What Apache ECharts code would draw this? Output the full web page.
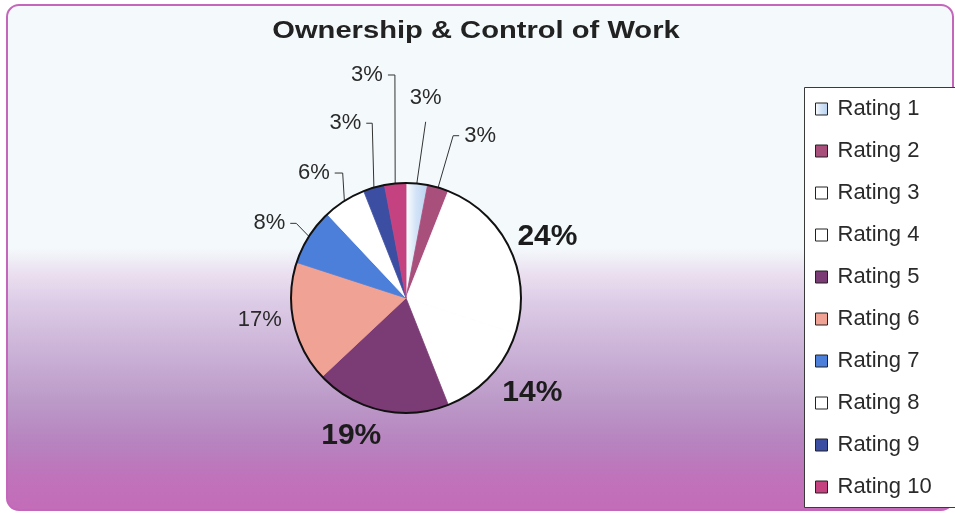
<!DOCTYPE html>
<html>
<head>
<meta charset="utf-8">
<script src="https://cdn.jsdelivr.net/npm/echarts@6/dist/echarts.min.js"></script>
<style>
  html, body { margin: 0; padding: 0; background: #ffffff; }
  #chart { width: 955px; height: 514px; }
</style>
</head>
<body>
<div id="chart"></div>
<script>
// Chart content
const chartTitle = 'Ownership & Control of Work';
const categories = ['Rating 1', 'Rating 2', 'Rating 3', 'Rating 4', 'Rating 5',
                    'Rating 6', 'Rating 7', 'Rating 8', 'Rating 9', 'Rating 10'];
const shares = [3, 3, 24, 14, 19, 17, 8, 6, 3, 3];   // percent of responses

// Slice fills, one per rating
const sliceColors = [
  { type: 'linear', x: 0, y: 0, x2: 1, y2: 0,
    colorStops: [{ offset: 0, color: '#ffffff' }, { offset: 0.45, color: '#d4e4f7' }, { offset: 1, color: '#b9d2f1' }] },
  '#a94f7c', '#ffffff', '#ffffff', '#7b3b74',
  '#f0a395', '#4c7fd9', '#ffffff', '#3c4ea2', '#c4427f'
];
// Solid edge colour for each slice, hides anti-aliasing seams between wedges
const sliceEdges = ['#d4e4f7', '#a94f7c', '#ffffff', '#ffffff', '#7b3b74',
                    '#f0a395', '#4c7fd9', '#ffffff', '#3c4ea2', '#c4427f'];

// Label styling per slice: big bold figures for the three largest wedges
const boldLabel = [false, false, true, true, true, false, false, false, false, false];

// Leader line geometry per slice: radial length, horizontal length,
// extra offset of the elbow/label, whether the line is drawn, label above the line end
const leaderCfg = [
  { len: 62,  len2: 0, dx: 3,   dy: 0,  show: true,  above: true },
  { len: 54,  len2: 6, dx: 0,   dy: 0,  show: true },
  { len: 28,  len2: 0, dx: -23, dy: 0,  show: false },
  { len: 24,  len2: 0, dx: -10, dy: 0,  show: false },
  { len: 26,  len2: 0, dx: 11,  dy: 0,  show: false },
  { len: 3,   len2: 0, dx: -4,  dy: -4, show: false },
  { len: 15,  len2: 6, dx: 0,   dy: -5, show: true },
  { len: 33,  len2: 8, dx: 16,  dy: 0,  show: true },
  { len: 67,  len2: 6, dx: 17,  dy: 0,  show: true },
  { len: 109, len2: 7, dx: 10,  dy: 0,  show: true }
];

const pieCenter = [406, 298];
const pieRadius = 115;

const pieData = categories.map(function (name, i) {
  const cfg = leaderCfg[i];
  return {
    name: name,
    value: shares[i],
    itemStyle: { color: sliceColors[i], borderColor: sliceEdges[i], borderWidth: 0.8 },
    label: boldLabel[i]
      ? { fontSize: 30, fontWeight: 'bold', color: '#1c1c1c' }
      : { fontSize: 22, fontWeight: 'normal', color: '#2a2a2a' },
    labelLine: { show: cfg.show, length: cfg.len, length2: cfg.len2 }
  };
});

const chart = echarts.init(document.getElementById('chart'), null, { renderer: 'canvas' });

const bgFill = new echarts.graphic.LinearGradient(0, 0, 0, 1, [
  { offset: 0.00, color: '#f4fafc' },
  { offset: 0.48, color: '#f4fafc' },
  { offset: 0.53, color: '#ebe0f0' },
  { offset: 0.59, color: '#dccbe6' },
  { offset: 0.69, color: '#cab1d6' },
  { offset: 0.79, color: '#bb98c7' },
  { offset: 0.87, color: '#b782bf' },
  { offset: 0.93, color: '#bf73ba' },
  { offset: 1.00, color: '#c46cb8' }
]);

chart.setOption({
  animation: false,
  backgroundColor: '#ffffff',
  graphic: [
    {
      type: 'rect', z: 0, silent: true,
      shape: { x: 7, y: 5, width: 946, height: 505, r: 12 },
      style: { fill: bgFill, stroke: '#c466bb', lineWidth: 2 }
    },
    {
      type: 'rect', z: 1, silent: true,
      shape: { x: 804.5, y: 87.5, width: 170, height: 420 },
      style: { fill: '#ffffff', stroke: '#3a3a3a', lineWidth: 1 }
    },
    {
      type: 'text', z: 5, silent: true,
      x: 476, y: 32, scaleX: 1.267,
      style: {
        text: chartTitle,
        font: 'bold 23px "Liberation Sans", Arial, sans-serif',
        fill: '#222222', align: 'center', verticalAlign: 'middle'
      }
    }
  ],
  legend: {
    orient: 'vertical',
    left: 815, top: 98,
    padding: 0,
    itemWidth: 12, itemHeight: 12, itemGap: 20,
    icon: 'rect',
    selectedMode: false,
    data: categories,
    itemStyle: { borderColor: '#222222', borderWidth: 1 },
    textStyle: {
      fontFamily: '"Liberation Sans", Arial, sans-serif',
      fontSize: 22, lineHeight: 22, color: '#2a2a2a',
      padding: [0, 0, 0, 5]
    }
  },
  series: [
    {
      type: 'pie',
      center: pieCenter,
      radius: pieRadius,
      startAngle: 90,
      clockwise: true,
      avoidLabelOverlap: false,
      silent: true,
      label: {
        show: true,
        position: 'outside',
        formatter: '{c}%',
        fontFamily: '"Liberation Sans", Arial, sans-serif',
        distanceToLabelLine: 5
      },
      labelLine: { lineStyle: { color: '#333333', width: 1 } },
      labelLayout: function (p) {
        const cfg = leaderCfg[p.dataIndex];
        const r = p.labelRect;
        const pts = p.labelLinePoints;
        let moved;
        if (pts && pts.length === 3) {
          moved = [
            pts[0].slice(),
            [pts[1][0] + cfg.dx, pts[1][1] + cfg.dy],
            [pts[2][0] + cfg.dx, pts[2][1] + cfg.dy]
          ];
        }
        if (cfg.above && moved) {
          return {
            x: moved[2][0] - r.width / 2,
            y: moved[2][1] - 13 - r.height,
            align: 'left', verticalAlign: 'top',
            labelLinePoints: moved
          };
        }
        const out = { x: r.x + cfg.dx, y: r.y + cfg.dy, align: 'left', verticalAlign: 'top' };
        if (moved) out.labelLinePoints = moved;
        return out;
      },
      data: pieData
    },
    {
      // dark rim around the whole pie
      type: 'pie',
      center: pieCenter,
      radius: pieRadius,
      silent: true,
      label: { show: false },
      labelLine: { show: false },
      itemStyle: { color: 'rgba(0,0,0,0)', borderColor: '#111111', borderWidth: 2 },
      data: [{ name: 'rim', value: 1 }],
      z: 3
    }
  ]
});
</script>
</body>
</html>
